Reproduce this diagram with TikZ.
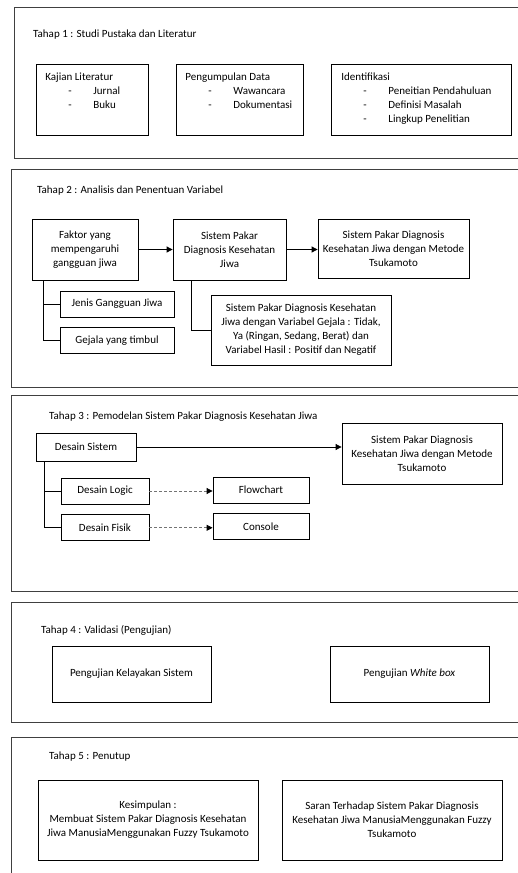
\documentclass[tikz,border=0pt]{standalone}
\usepackage{fontspec}
\setmainfont{Carlito}
\usetikzlibrary{positioning,arrows.meta}

\newcommand{\dashitem}[1]{\\\hspace*{32pt}\makebox[25pt][l]{-}#1}

\begin{document}
\begin{tikzpicture}[
    x=1pt, y=-1pt,
    framebox/.style={draw=black!75, line width=0.8pt},
    boxnode/.style={draw, line width=0.8pt, align=center, inner sep=2pt, font=\fontsize{11}{14}\selectfont},
    listnode/.style={draw, line width=0.8pt, inner sep=0pt, anchor=north west, font=\fontsize{11}{14}\selectfont},
    titlenode/.style={anchor=west, inner sep=0pt, font=\fontsize{11}{14}\selectfont},
    arrowline/.style={line width=0.8pt, -{Triangle[length=6pt,width=6pt,color=black]}},
    dashline/.style={arrowline, draw=black!55, dash pattern=on 3pt off 2pt},
    treeline/.style={line width=0.8pt},
  ]
  \clip (0,0) rectangle (518,873);
  \draw[framebox] (14,7) rectangle (540,158);
  \draw[framebox] (11,169) rectangle (540,387);
  \draw[framebox] (11,395) rectangle (540,591);
  \draw[framebox] (11,602) rectangle (540,722);
  \draw[framebox] (11,737) rectangle (540,900);

  \node[titlenode] (T1) at (33,35) {Tahap 1 : Studi Pustaka dan Literatur};
  \node[listnode]  (K1) at (36,64)  {\parbox[t][71pt][t]{112pt}{\rule{0pt}{16pt}\hspace*{9pt}Kajian Literatur\dashitem{Jurnal}\dashitem{Buku}}};
  \node[listnode]  (P1) at (176,64) {\parbox[t][71pt][t]{127pt}{\rule{0pt}{16pt}\hspace*{9pt}Pengumpulan Data\dashitem{Wawancara}\dashitem{Dokumentasi}}};
  \node[listnode]  (I1) at (331,64) {\parbox[t][71pt][t]{180pt}{\rule{0pt}{16pt}\hspace*{10pt}Identifikasi\dashitem{Peneitian Pendahuluan}\dashitem{Definisi Masalah}\dashitem{Lingkup Penelitian}}};

  \node[titlenode] (T2) at (37,191) {Tahap 2 : Analisis dan Penentuan Variabel};
  \node[boxnode, minimum width=106, minimum height=61] (F2) at (85,249.5)  {Faktor yang\\mempengaruhi\\gangguan jiwa};
  \node[boxnode, minimum width=113, minimum height=61] (S2) at (229.5,249.5) {Sistem Pakar\\Diagnosis Kesehatan\\Jiwa};
  \node[boxnode, minimum width=151, minimum height=59] (M2) at (393.5,248.5) {Sistem Pakar Diagnosis\\Kesehatan Jiwa dengan Metode\\Tsukamoto};
  \node[boxnode, minimum width=114, minimum height=26] (J2) at (117,304)   {Jenis Gangguan Jiwa};
  \node[boxnode, minimum width=114, minimum height=26] (G2) [below=10pt of J2] {Gejala yang timbul};
  \node[boxnode, minimum width=180, minimum height=70] (V2) at (301,330)   {Sistem Pakar Diagnosis Kesehatan\\Jiwa dengan Variabel Gejala : Tidak,\\Ya (Ringan, Sedang, Berat) dan\\Variabel Hasil : Positif dan Negatif};
  \draw[arrowline] (F2.east) -- (F2.east -| S2.west);
  \draw[arrowline] (S2.east) -- (S2.east -| M2.west);
  \draw[treeline] ([xshift=12pt]F2.south west) |- (J2.west);
  \draw[treeline] ([xshift=12pt]F2.south west) |- (G2.west);
  \draw[treeline] ([xshift=19pt]S2.south west) |- (V2.west);

  \node[titlenode] (T3) at (49,417) {Tahap 3 : Pemodelan Sistem Pakar Diagnosis Kesehatan Jiwa};
  \node[boxnode, minimum width=100, minimum height=28] (D3) at (86,447)     {Desain Sistem};
  \node[boxnode, minimum width=160, minimum height=61] (M3) at (422,453.5)  {Sistem Pakar Diagnosis\\Kesehatan Jiwa dengan Metode\\Tsukamoto};
  \node[boxnode, minimum width=88, minimum height=26]  (L3) at (105,491)    {Desain Logic};
  \node[boxnode, minimum width=88, minimum height=26]  (S3) [below=10pt of L3] {Desain Fisik};
  \node[boxnode, minimum width=96, minimum height=26]  (FC3) at (261,490)   {Flowchart};
  \node[boxnode, minimum width=96, minimum height=26]  (C3) [below=10pt of FC3] {Console};
  \draw[arrowline] (D3.east) -- (D3.east -| M3.west);
  \draw[treeline] ([xshift=9pt]D3.south west) |- (L3.west);
  \draw[treeline] ([xshift=9pt]D3.south west) |- (S3.west);
  \draw[dashline] (L3.east) -- (L3.east -| FC3.west);
  \draw[dashline] (S3.east) -- (S3.east -| C3.west);

  \node[titlenode] (T4) at (41,630) {Tahap 4 : Validasi (Pengujian)};
  \node[boxnode, minimum width=159, minimum height=56] (K4) at (131.5,674) {Pengujian Kelayakan Sistem};
  \node[boxnode, minimum width=159, minimum height=56] (W4) at (409.5,674) {Pengujian \textit{White box}};

  \node[titlenode] (T5) at (49,757) {Tahap 5 : Penutup};
  \node[boxnode, minimum width=220, minimum height=80] (K5) at (148,820) {Kesimpulan :\\Membuat Sistem Pakar Diagnosis Kesehatan\\Jiwa ManusiaMenggunakan Fuzzy Tsukamoto};
  \node[boxnode, minimum width=220, minimum height=80] (S5) at (392,820) {Saran Terhadap Sistem Pakar Diagnosis\\Kesehatan Jiwa ManusiaMenggunakan Fuzzy\\Tsukamoto};
\end{tikzpicture}
\end{document}
